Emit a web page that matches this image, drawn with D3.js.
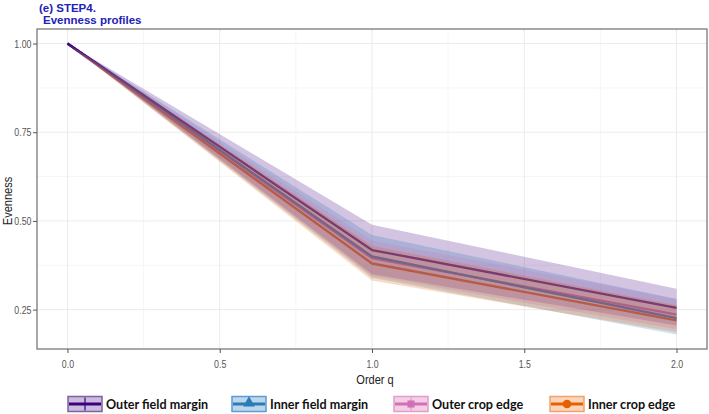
<!DOCTYPE html>
<html><head><meta charset="utf-8">
<script src="https://cdn.jsdelivr.net/npm/d3@7"></script>
<style>
body{margin:0;background:#fff;}
svg{display:block;}
</style></head>
<body>
<svg id="chart" width="709" height="414"></svg>
<script>
// ---- data ----
const orders = [0, 1, 2];
const seriesNames = ["Outer field margin", "Inner field margin", "Outer crop edge", "Inner crop edge"];
const outerFieldMean = [1, 0.418, 0.255];
const outerFieldLow  = [1, 0.350, 0.205];
const outerFieldHigh = [1, 0.489, 0.309];
const innerFieldMean = [1, 0.400, 0.226];
const innerFieldLow  = [1, 0.340, 0.180];
const innerFieldHigh = [1, 0.460, 0.280];
const outerCropMean  = [1, 0.395, 0.236];
const outerCropLow   = [1, 0.345, 0.195];
const outerCropHigh  = [1, 0.445, 0.280];
const innerCropMean  = [1, 0.380, 0.220];
const innerCropLow   = [1, 0.332, 0.186];
const innerCropHigh  = [1, 0.430, 0.262];
const xTicks = [0, 0.5, 1, 1.5, 2];
const yTicks = [0.25, 0.5, 0.75, 1];
const xMinor = [0.25, 0.75, 1.25, 1.75];
const yMinor = [0.375, 0.625, 0.875];

const lineColors = ["#3f007d", "#2c7bb6", "#d16fb7", "#e66101"];
const keyFills   = ["#cbbbdd", "#bcd6ec", "#f3cfe5", "#fbd5bb"];
const keyBorders = ["#7b62a3", "#5d9bd2", "#e29ccb", "#eea36f"];
const shapes = ["plus", "triangle", "square", "circle"];

const series = [
  {mean: outerFieldMean, lo: outerFieldLow, hi: outerFieldHigh},
  {mean: innerFieldMean, lo: innerFieldLow, hi: innerFieldHigh},
  {mean: outerCropMean, lo: outerCropLow, hi: outerCropHigh},
  {mean: innerCropMean, lo: innerCropLow, hi: innerCropHigh}
].map((s, i) => ({name: seriesNames[i], color: lineColors[i],
  pts: orders.map((q, j) => ({q, m: s.mean[j], lo: s.lo[j], hi: s.hi[j]}))}));

// ---- layout ----
const svg = d3.select("#chart");
const P = {left: 37, right: 707, top: 29, bottom: 349};
const x = d3.scaleLinear().domain([-0.1, 2.1]).range([P.left, P.right]);
const yMinAll = d3.min(series, s => d3.min(s.pts, p => p.lo));
const yMaxAll = 1;
const pad = (yMaxAll - yMinAll) * 0.05;
const y = d3.scaleLinear().domain([yMinAll - pad, yMaxAll + pad]).range([P.bottom, P.top]);

svg.append("rect").attr("x", P.left).attr("y", P.top)
  .attr("width", P.right - P.left).attr("height", P.bottom - P.top).attr("fill", "#fff");

// grid
const g = svg.append("g");
g.selectAll(".xmin").data(xMinor).join("line")
  .attr("x1", d => x(d)).attr("x2", d => x(d)).attr("y1", P.top).attr("y2", P.bottom)
  .attr("stroke", "#f4f4f4").attr("stroke-width", 0.8);
g.selectAll(".ymin").data(yMinor).join("line")
  .attr("y1", d => y(d)).attr("y2", d => y(d)).attr("x1", P.left).attr("x2", P.right)
  .attr("stroke", "#f4f4f4").attr("stroke-width", 0.8);
g.selectAll(".xmaj").data(xTicks).join("line")
  .attr("x1", d => x(d)).attr("x2", d => x(d)).attr("y1", P.top).attr("y2", P.bottom)
  .attr("stroke", "#ebebeb").attr("stroke-width", 1);
g.selectAll(".ymaj").data(yTicks).join("line")
  .attr("y1", d => y(d)).attr("y2", d => y(d)).attr("x1", P.left).attr("x2", P.right)
  .attr("stroke", "#ebebeb").attr("stroke-width", 1);

// lines first, then ribbons (ribbons tint the lines as in the reference)
const line = d3.line().x(d => x(d.q)).y(d => y(d.m));
const area = d3.area().x(d => x(d.q)).y0(d => y(d.lo)).y1(d => y(d.hi));

const plot = svg.append("g");
series.slice().reverse().forEach(s => {
  plot.append("path").datum(s.pts).attr("d", line)
    .attr("fill", "none").attr("stroke", s.color).attr("stroke-width", 2.3)
    .attr("stroke-linejoin", "round");
});
series.forEach(s => {
  plot.append("path").datum(s.pts).attr("d", area)
    .attr("fill", s.color).attr("fill-opacity", 0.23).attr("stroke", "none");
});

// panel border
svg.append("rect").attr("x", P.left).attr("y", P.top)
  .attr("width", P.right - P.left).attr("height", P.bottom - P.top)
  .attr("fill", "none").attr("stroke", "#6e6e6e").attr("stroke-width", 1.2);

// axes
const tickFont = "'Liberation Sans',Arial,sans-serif";
const xAxis = svg.append("g").attr("transform", `translate(0,${P.bottom})`)
  .call(d3.axisBottom(x).tickValues(xTicks).tickFormat(d3.format(".1f")).tickSize(4).tickPadding(7));
const yAxis = svg.append("g").attr("transform", `translate(${P.left},0)`)
  .call(d3.axisLeft(y).tickValues(yTicks).tickFormat(d3.format(".2f")).tickSize(4).tickPadding(3));
[xAxis, yAxis].forEach(a => {
  a.select(".domain").remove();
  a.selectAll(".tick line").attr("stroke", "#555");
  a.selectAll("text").attr("fill", "#555").style("font-family", tickFont).style("font-size", "11px")
    .attr("transform", "scale(0.8,1)");
});

// axis titles
svg.append("text").attr("transform", `translate(${(P.left + P.right) / 2 + 3},384) scale(0.85,1)`)
  .attr("text-anchor", "middle").style("font-family", tickFont).style("font-size", "13px")
  .attr("fill", "#222").text("Order q");
svg.append("text").attr("transform", `translate(12,${(P.top + P.bottom) / 2 + 12}) rotate(-90) scale(0.85,1)`)
  .attr("text-anchor", "middle").style("font-family", tickFont).style("font-size", "13px")
  .attr("fill", "#222").text("Evenness");

// title
const titleFont = "'Liberation Sans',Arial,sans-serif";
svg.append("text").attr("x", 39).attr("y", 12).style("font-family", titleFont)
  .style("font-size", "11.5px").style("font-weight", "bold").attr("fill", "#2222b8").text("(e) STEP4.");
svg.append("text").attr("x", 43).attr("y", 24).style("font-family", titleFont)
  .style("font-size", "11.5px").style("font-weight", "bold").attr("fill", "#2222b8").text("Evenness profiles");

// legend
const keyX = [68, 232, 394, 550];
const legY = 404;
const leg = svg.append("g");
series.forEach((s, i) => {
  const kx = keyX[i], kw = 34, kh = 15;
  const gk = leg.append("g");
  gk.append("rect").attr("x", kx).attr("y", legY - kh / 2).attr("width", kw).attr("height", kh)
    .attr("fill", keyFills[i]).attr("stroke", keyBorders[i]).attr("stroke-width", 1.5);
  gk.append("line").attr("x1", kx + 1).attr("x2", kx + kw - 1).attr("y1", legY).attr("y2", legY)
    .attr("stroke", s.color).attr("stroke-width", 3);
  const cx = kx + kw / 2;
  if (shapes[i] === "plus") {
    gk.append("line").attr("x1", cx).attr("x2", cx).attr("y1", legY - kh / 2 + 1).attr("y2", legY + kh / 2 - 1)
      .attr("stroke", s.color).attr("stroke-width", 1.2);
  } else {
    const sym = shapes[i] === "triangle" ? d3.symbolTriangle : shapes[i] === "square" ? d3.symbolSquare : d3.symbolCircle;
    const size = shapes[i] === "triangle" ? 60 : shapes[i] === "square" ? 50 : 60;
    gk.append("path").attr("d", d3.symbol(sym, size)())
      .attr("transform", `translate(${cx},${legY - (shapes[i] === "triangle" ? 1 : 0)})`)
      .attr("fill", s.color);
    if (shapes[i] === "square") {
      gk.append("line").attr("x1", cx).attr("x2", cx).attr("y1", legY - kh / 2 + 1).attr("y2", legY + kh / 2 - 1)
        .attr("stroke", s.color).attr("stroke-width", 1).attr("stroke-opacity", 0.6);
    }
  }
  leg.append("text").attr("x", kx + kw + 4).attr("y", legY + 4.5)
    .style("font-family", "Lato,'Open Sans',sans-serif").style("font-size", "12.6px")
    .style("font-weight", "bold").attr("fill", "#111").text(s.name);
});
</script>
</body></html>
